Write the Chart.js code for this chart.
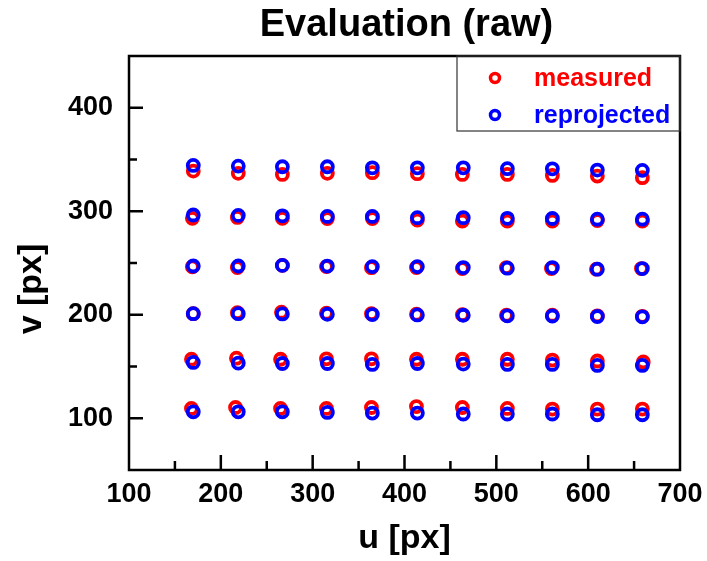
<!DOCTYPE html>
<html><head><meta charset="utf-8">
<script src="https://cdn.jsdelivr.net/npm/chart.js@4.4.1/dist/chart.umd.min.js"></script>
<style>html,body{margin:0;padding:0;background:#fff}</style>
</head><body>
<canvas id="c" width="707" height="561"></canvas>
<script>
const FONT = "'Liberation Sans', Arial, sans-serif";
const titleText = "Evaluation (raw)";
const xTitle = "u [px]";
const yTitle = "v [px]";
const legendLabels = ["measured", "reprojected"];
const xTicks = [100, 200, 300, 400, 500, 600, 700];
const yTicks = [100, 200, 300, 400];
const xMinor = [150, 250, 350, 450, 550, 650];
const yMinor = [150, 250, 350];

// reprojected u (column positions)
const reprojU = [170, 219, 267, 316, 365, 414, 464, 512, 561, 610, 659];
// reprojected v, one array per row (top to bottom)
const reprojV1 = [344.3, 343.6, 343, 343, 342, 342, 342, 341.1, 341, 339.8, 339.5];
const reprojV2 = [296.4, 296, 295.6, 295, 295, 293.8, 293.8, 293.2, 293, 292.3, 292.3];
const reprojV3 = [247.1, 247.1, 247.7, 247, 246.5, 246.5, 245.6, 245, 245.6, 244, 244.6];
const reprojV4 = [201, 201, 200.8, 200.5, 200.2, 199.8, 199.5, 199, 198.8, 198.3, 198];
const reprojV5 = [153.9, 153.3, 152.9, 152.9, 152, 152.9, 152.3, 152, 152, 151, 151];
const reprojV6 = [106.2, 106.2, 106.2, 105.6, 105, 105, 104.1, 104.1, 104.1, 103.4, 103.4];

// measured u, one array per row
const measU1 = [170, 219, 267, 316, 365, 414, 463, 512, 561, 610, 659];
const measU2 = [169, 218, 267, 316, 365, 414, 463, 512, 561, 610, 659];
const measU3 = [169, 218, 267, 315, 364, 413, 463, 511, 560, 609, 658];
const measU4 = [170, 218, 266, 315, 364, 413, 463, 511, 561, 610, 659];
const measU5 = [168, 217, 265, 315, 364, 413, 463, 512, 561, 610, 660];
const measU6 = [168, 216, 265, 315, 364, 413, 463, 512, 561, 610, 659];
// measured v
const measV1 = [338.8, 336.6, 335.6, 336.6, 337.3, 336.3, 335.6, 335.6, 334.6, 334, 332.4];
const measV2 = [293.2, 294, 293.2, 293, 293, 291.5, 290.5, 290.5, 290.5, 291, 290.5];
const measV3 = [246.4, 245.6, 247.7, 246.5, 245.5, 245.6, 244.6, 245.6, 244.6, 244, 244.6];
const measV4 = [201, 202, 202.5, 201.5, 201, 200.5, 200, 199.5, 199.5, 199, 198.5];
const measV5 = [157.1, 158, 157, 157.4, 157.4, 157, 157, 157, 156.2, 155.3, 154.4];
const measV6 = [109.5, 110.4, 109.5, 109.5, 110.4, 111.3, 110.4, 109.5, 108.9, 108.9, 108.9];

const reprojRows = [reprojV1, reprojV2, reprojV3, reprojV4, reprojV5, reprojV6];
const measURows = [measU1, measU2, measU3, measU4, measU5, measU6];
const measVRows = [measV1, measV2, measV3, measV4, measV5, measV6];

const reprojPts = [];
reprojRows.forEach(r => r.forEach((v, i) => reprojPts.push({x: reprojU[i], y: v})));
const measPts = [];
measVRows.forEach((r, k) => r.forEach((v, i) => measPts.push({x: measURows[k][i], y: v})));

const framePlugin = {
  id: 'frame',
  afterDatasetsDraw(chart) {
    const {ctx, chartArea: a, scales: {x, y}} = chart;
    ctx.save();
    ctx.strokeStyle = '#000';
    ctx.lineWidth = 2.5;
    ctx.lineCap = 'butt';
    // ticks (inward)
    ctx.beginPath();
    xTicks.forEach(v => { const p = x.getPixelForValue(v); if (v > 100 && v < 700) { ctx.moveTo(p, a.bottom); ctx.lineTo(p, a.bottom - 15); } });
    xMinor.forEach(v => { const p = x.getPixelForValue(v); ctx.moveTo(p, a.bottom); ctx.lineTo(p, a.bottom - 9); });
    yTicks.forEach(v => { const p = y.getPixelForValue(v); ctx.moveTo(a.left, p); ctx.lineTo(a.left + 14, p); });
    yMinor.forEach(v => { const p = y.getPixelForValue(v); ctx.moveTo(a.left, p); ctx.lineTo(a.left + 8, p); });
    ctx.stroke();
    // frame
    ctx.strokeRect(a.left, a.top, a.right - a.left, a.bottom - a.top);
    // legend box
    const bw = 223, bh = 75;
    const bx = a.right - bw, by = a.top;
    ctx.lineWidth = 1.2;
    ctx.strokeStyle = '#333';
    ctx.strokeRect(bx, by, bw, bh);
    const cols = ['#ff0000', '#0000ff'];
    const rowsY = [by + 22, by + 59];
    legendLabels.forEach((t, i) => {
      ctx.beginPath();
      ctx.lineWidth = 3.5;
      ctx.strokeStyle = cols[i];
      ctx.arc(bx + 38, rowsY[i], 4.5, 0, Math.PI * 2);
      ctx.stroke();
      ctx.fillStyle = cols[i];
      ctx.font = "bold 25px " + FONT;
      ctx.textAlign = 'left';
      ctx.textBaseline = 'middle';
      ctx.fillText(t, bx + 77, rowsY[i] + 1);
    });
    // title
    ctx.fillStyle = '#000';
    ctx.font = "bold 38px " + FONT;
    ctx.textAlign = 'center';
    ctx.textBaseline = 'middle';
    ctx.fillText(titleText, (a.left + a.right) / 2 + 2, 26);
    // y axis title (rotated)
    ctx.save();
    ctx.translate(32, 289);
    ctx.rotate(-Math.PI / 2);
    ctx.font = "bold 34px " + FONT;
    ctx.fillText(yTitle, 0, 0);
    ctx.restore();
    ctx.restore();
  }
};

new Chart(document.getElementById('c'), {
  type: 'scatter',
  data: {
    datasets: [
      {label: legendLabels[1], data: reprojPts, order: 0, borderColor: '#0000ff', backgroundColor: 'rgba(0,0,0,0)', pointRadius: 5.5, pointBorderWidth: 3.8, pointStyle: 'circle'},
      {label: legendLabels[0], data: measPts, order: 1, borderColor: '#ff0000', backgroundColor: 'rgba(0,0,0,0)', pointRadius: 5.5, pointBorderWidth: 3.8, pointStyle: 'circle'}
    ]
  },
  options: {
    responsive: false,
    animation: false,
    devicePixelRatio: 1,
    layout: {padding: {top: 56, right: 27, left: 0, bottom: 0}},
    plugins: {legend: {display: false}, tooltip: {enabled: false}, title: {display: false}},
    scales: {
      x: {
        type: 'linear', min: 100, max: 700,
        afterBuildTicks: s => { s.ticks = xTicks.map(v => ({value: v})); },
        afterFit: s => { s.height = 91; s.paddingLeft = 0; s.paddingRight = 0; },
        grid: {display: false, drawTicks: false},
        border: {display: false},
        ticks: {color: '#000', padding: 8, font: {family: FONT, size: 27, weight: 'bold'}, maxRotation: 0},
        title: {display: true, text: xTitle, color: '#000', padding: {top: 0, bottom: 2}, font: {family: FONT, size: 34, weight: 'bold'}}
      },
      y: {
        type: 'linear', min: 50, max: 450,
        afterBuildTicks: s => { s.ticks = yTicks.map(v => ({value: v})); },
        afterFit: s => { s.width = 129; s.paddingTop = 0; s.paddingBottom = 0; },
        grid: {display: false, drawTicks: false},
        border: {display: false},
        ticks: {color: '#000', padding: 16, font: {family: FONT, size: 27, weight: 'bold'}},
        title: {display: false}
      }
    }
  },
  plugins: [framePlugin]
});
</script>
</body></html>
